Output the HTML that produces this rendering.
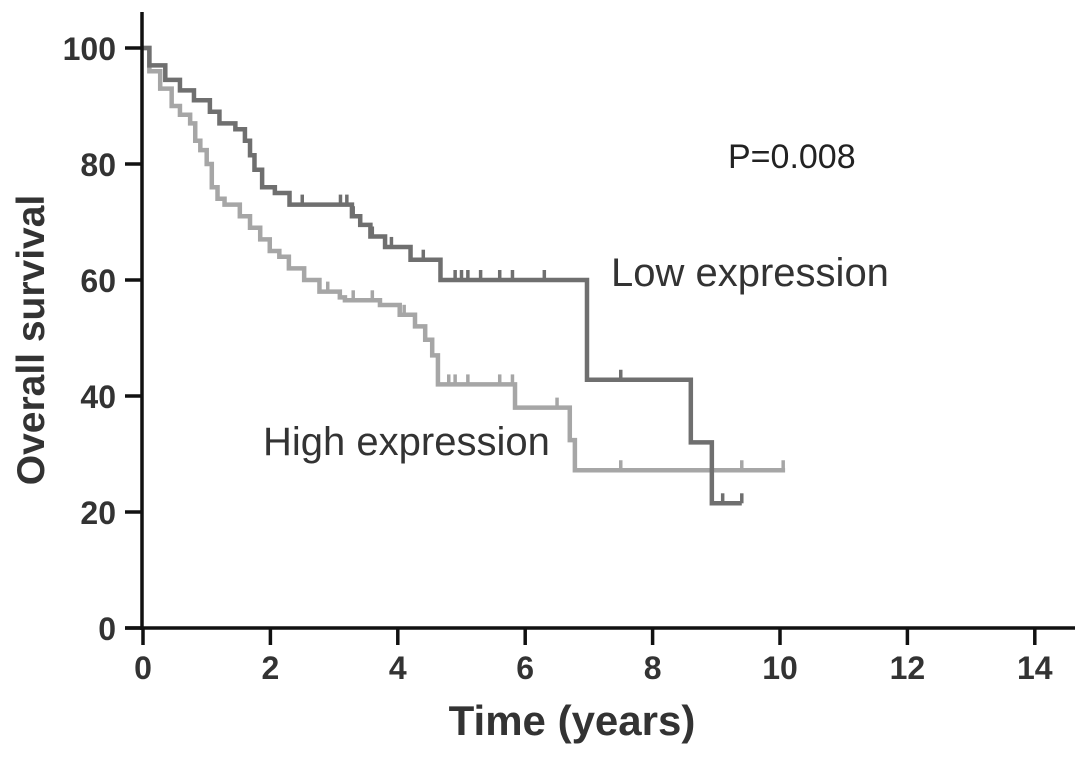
<!DOCTYPE html>
<html><head><meta charset="utf-8"><style>
body{margin:0;background:#fff}
svg text{font-family:"Liberation Sans",Arial,sans-serif}
</style></head><body>
<svg id="c" width="1087" height="757" viewBox="0 0 1087 757"></svg>
<script>
const lowTimes=[0,0.1,0.35,0.58,0.8,1.05,1.2,1.45,1.6,1.68,1.75,1.87,2.07,2.3,3.28,3.41,3.57,3.8,4.2,4.67,6.97,8.6,8.93,9.4];
const lowSurv=[100,97,94.5,92.7,91,89,87,86,84,81.5,79,76,75,73,71,69.5,67.5,65.7,63.5,60,42.8,32,21.5,21.5];
const lowCensor=[2.3,2.5,3.1,3.2,3.3,3.6,3.9,4.4,4.9,5.0,5.1,5.3,5.6,5.8,6.3,7.5,9.1,9.4];
const highTimes=[0,0.1,0.27,0.45,0.58,0.74,0.82,0.9,1.0,1.08,1.17,1.28,1.52,1.68,1.84,1.99,2.14,2.29,2.53,2.77,3.09,3.17,3.72,4.03,4.27,4.43,4.54,4.63,5.84,6.7,6.78,10.08];
const highSurv=[100,96,93,90,88.5,87,84,82.4,80,76,74,73,71,69,67,65,64,62,60,58,57,56.5,55.7,54,52,49.7,47,42,38,32.4,27.2,27.2];
const highCensor=[2.9,3.3,3.6,4.1,4.8,4.9,5.1,5.6,5.8,6.5,6.7,7.5,9.4,10.05];
const xTicks=[0,2,4,6,8,10,12,14];
const yTicks=[0,20,40,60,80,100];
const X=t=>143+t*63.7, Y=s=>628-s*5.8;
const svg=document.getElementById('c'), NS='http://www.w3.org/2000/svg';
function mk(tag,attrs,txt){const e=document.createElementNS(NS,tag);for(const k in attrs)e.setAttribute(k,attrs[k]);if(txt!=null)e.textContent=txt;svg.appendChild(e);return e;}
function curve(times,surv,cens,color,name){
  let d=`M${X(times[0])},${Y(surv[0])}`;
  for(let i=1;i<times.length;i++){d+=`H${X(times[i])}V${Y(surv[i])}`;}
  const p=mk('path',{d:d,fill:'none',stroke:color,'stroke-width':4.5});
  
  
  cens.forEach(t=>{let s=surv[0];for(let i=0;i<times.length;i++){if(times[i]<=t)s=surv[i];}
    const l=mk('line',{x1:X(t),x2:X(t),y1:Y(s),y2:Y(s)-10,stroke:color,'stroke-width':3.5});
    
    });
}
curve(highTimes,highSurv,highCensor,'#a6a6a6','high-expression');
curve(lowTimes,lowSurv,lowCensor,'#6f6f6f','low-expression');
const ya=mk('line',{x1:142,x2:142,y1:12,y2:630,stroke:'#111','stroke-width':3.5});

const xa=mk('line',{x1:125,x2:1075,y1:628,y2:628,stroke:'#111','stroke-width':3.5});

yTicks.forEach(v=>{const l=mk('line',{x1:125,x2:143,y1:Y(v),y2:Y(v),stroke:'#111','stroke-width':3.5});
  
  const t=mk('text',{x:116,y:Y(v)+12,'text-anchor':'end','font-size':32,'font-weight':'bold',fill:'#333'},v);
  });
xTicks.forEach(v=>{const l=mk('line',{x1:X(v),x2:X(v),y1:628,y2:645,stroke:'#111','stroke-width':3.5});
  
  const t=mk('text',{x:X(v),y:679,'text-anchor':'middle','font-size':32,'font-weight':'bold',fill:'#333'},v);
  });
</script>
<svg width="1087" height="757" style="position:absolute;left:0;top:0">
<text x="572" y="735" text-anchor="middle" font-size="42" font-weight="bold" fill="#333" font-family="Liberation Sans">Time (years)</text>
<text transform="translate(44,340) rotate(-90)" text-anchor="middle" font-size="39" font-weight="bold" fill="#333" font-family="Liberation Sans">Overall survival</text>
<text x="728" y="168" font-size="34" fill="#222" font-family="Liberation Sans">P=0.008</text>
<text x="611" y="286" font-size="40" fill="#333" font-family="Liberation Sans">Low expression</text>
<text x="263" y="455" font-size="40" fill="#333" font-family="Liberation Sans">High expression</text>
</svg>
</body></html>
